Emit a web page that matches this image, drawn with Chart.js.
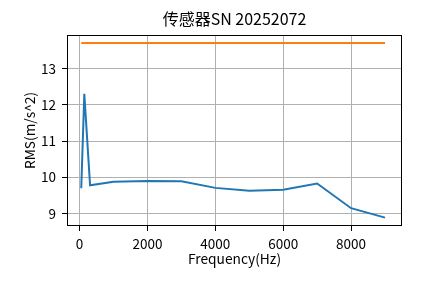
<!DOCTYPE html>
<html>
<head>
<meta charset="utf-8">
<script src="https://cdn.jsdelivr.net/npm/chart.js@4.4.1/dist/chart.umd.min.js"></script>
<style>
html,body{margin:0;padding:0;background:#fff;}
#wrap{width:445px;height:283px;position:relative;}
</style>
</head>
<body>
<div id="wrap"><canvas id="c" width="445" height="283"></canvas></div>
<script>
const frequencies = [50, 140, 310, 1000, 2000, 3000, 4000, 5000, 6000, 7000, 8000, 9000];
const rmsValues = [9.70, 12.30, 9.78, 9.88, 9.90, 9.89, 9.71, 9.63, 9.66, 9.83, 9.15, 8.89];
const limitValues = [13.70, 13.70, 13.70, 13.70, 13.70, 13.70, 13.70, 13.70, 13.70, 13.70, 13.70, 13.70];
const xTicks = [0, 2000, 4000, 6000, 8000];
const yTicks = [9, 10, 11, 12, 13];
const titleText = '传感器SN 20252072';
const xTitle = 'Frequency(Hz)';
const yTitle = 'RMS(m/s^2)';

const FONT = "'Noto Sans CJK SC', sans-serif";

const frame = {
  id: 'frame',
  afterDraw(chart) {
    const {ctx, chartArea: a} = chart;
    ctx.save();
    ctx.strokeStyle = '#000';
    ctx.lineWidth = 1;
    ctx.strokeRect(Math.round(a.left) + 0.5, Math.round(a.top) + 0.5, Math.round(a.right - a.left) - 1, Math.round(a.bottom - a.top) - 1);
    ctx.fillStyle = '#000';
    ctx.font = '16px ' + FONT;
    ctx.textAlign = 'center';
    ctx.textBaseline = 'middle';
    ctx.fillText(titleText, (a.left + a.right) / 2, 19);
    ctx.restore();
  }
};

new Chart(document.getElementById('c'), {
  type: 'line',
  data: {
    datasets: [
      {
        data: frequencies.map((f, i) => ({x: f, y: rmsValues[i]})),
        borderColor: '#1f77b4',
        borderWidth: 2,
        pointRadius: 0,
        tension: 0,
        fill: false
      },
      {
        data: frequencies.map((f, i) => ({x: f, y: limitValues[i]})),
        borderColor: '#ff7f0e',
        borderWidth: 2,
        pointRadius: 0,
        tension: 0,
        fill: false
      }
    ]
  },
  options: {
    responsive: false,
    animation: false,
    layout: {padding: {left: 0, right: 43, top: 35, bottom: 0}},
    plugins: {legend: {display: false}, tooltip: {enabled: false}, title: {display: false}},
    scales: {
      x: {
        type: 'linear',
        min: -370,
        max: 9500,
        afterBuildTicks(s) { s.ticks = xTicks.map(v => ({value: v})); },
        afterFit(s) { s.height = 57; },
        grid: {color: '#b0b0b0', lineWidth: 1, tickColor: '#000', tickLength: 5, drawTicks: true},
        border: {display: false},
        ticks: {color: '#000', font: {family: FONT, size: 13.5}, padding: 5, maxRotation: 0, autoSkip: false, callback: v => String(v)},
        title: {display: true, text: xTitle, color: '#000', font: {family: FONT, size: 13.75}, padding: {top: 0, bottom: 16}}
      },
      y: {
        type: 'linear',
        min: 8.66,
        max: 13.92,
        afterBuildTicks(s) { s.ticks = yTicks.map(v => ({value: v})); },
        afterFit(s) { s.width = 67; },
        grid: {color: '#b0b0b0', lineWidth: 1, tickColor: '#000', tickLength: 5, drawTicks: true},
        border: {display: false},
        ticks: {color: '#000', font: {family: FONT, size: 13.5}, padding: 6, autoSkip: false, callback: v => String(v)},
        title: {display: true, text: yTitle, color: '#000', font: {family: FONT, size: 13.75}, padding: {top: 22, bottom: 0}}
      }
    }
  },
  plugins: [frame]
});
</script>
</body>
</html>
